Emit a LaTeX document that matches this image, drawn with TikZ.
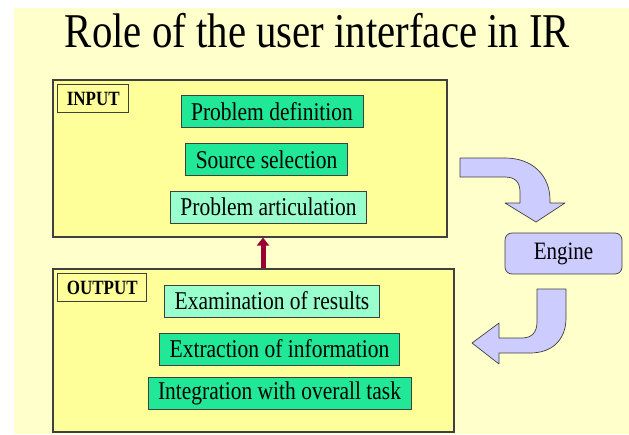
\documentclass[tikz,border=0pt]{standalone}
\usepackage{fontspec}
\setmainfont{Liberation Serif}
\usepackage{graphicx}
\usetikzlibrary{positioning,arrows.meta}
\definecolor{slidebg}{RGB}{255,255,204}
\definecolor{panelfill}{RGB}{255,255,153}
\definecolor{stepgreen}{RGB}{32,232,150}
\definecolor{steplight}{RGB}{153,255,204}
\definecolor{enginefill}{RGB}{204,204,255}
\definecolor{edgegray}{RGB}{64,64,64}
\definecolor{linkred}{RGB}{153,0,51}
\newcommand{\tall}[1]{\scalebox{1}[1.19]{#1}}
\tikzset{
  panel/.style={draw=edgegray, line width=1.1pt, fill=panelfill, inner sep=0pt},
  tag/.style={draw=edgegray, line width=0.8pt, fill=panelfill, inner xsep=9pt,
    minimum height=28pt, font=\fontsize{17}{17}\selectfont\bfseries},
  task/.style={draw=edgegray, line width=0.8pt, fill=stepgreen, inner xsep=10pt,
    minimum height=32pt, font=\fontsize{21.5}{22}\selectfont},
  tasklight/.style={task, fill=steplight},
  turnshape/.style={draw=edgegray, line width=0.7pt, fill=enginefill, line join=round},
}
\begin{document}
\begin{tikzpicture}[x=1pt,y=-1pt]
  \useasboundingbox (0,0) rectangle (629,434);
  \fill[white] (0,0) rectangle (629,434);
  \fill[slidebg] (14,8) rectangle (629,434);

  % Title
  \node[anchor=base, font=\fontsize{40.8}{42}\selectfont] (title) at (317.5,47) {\tall{Role of the user interface in IR}};

  % Panels
  \node[panel, minimum width=394pt, minimum height=157pt] (inbox) at (250,158.5) {};
  \node[panel, minimum width=401pt, minimum height=163pt] (outbox) at (253.5,350.5) {};
  \node[tag, below right=5pt and 5pt of inbox.north west] (intag) {\tall{INPUT}};
  \node[tag, below right=5pt and 5pt of outbox.north west] (outtag) {\tall{OUTPUT}};

  % Input steps
  \node[task] (define) at (272,111.5) {\tall{Problem definition}};
  \node[task] (select) at (266.5,159.5) {\tall{Source selection}};
  \node[tasklight] (articulate) at (268.5,207) {\tall{Problem articulation}};

  % Output steps
  \node[tasklight] (examine) at (272,301) {\tall{Examination of results}};
  \node[task] (extract) at (279.5,349) {\tall{Extraction of information}};
  \node[task] (integrate) at (279.5,393.5) {\tall{Integration with overall task}};

  % Engine
  \node[turnshape, rounded corners=7pt, minimum width=117pt, minimum height=41pt,
    font=\fontsize{21}{22}\selectfont] (engine) at (563.5,253.5) {\tall{Engine}};

  % Link from output to input
  \coordinate (linkfoot) at (263,268);
  \draw[linkred, line width=5pt, -{Triangle[width=12pt,length=8pt]}]
    (outbox.north -| linkfoot) -- (inbox.south -| linkfoot);

  % Curved arrows
  \draw[turnshape] (460,158) -- (505,158) .. controls (532,158) and (550,175) .. (550,200)
    -- (550,203) -- (565,203) -- (536,222) -- (505,203) -- (520,203) -- (520,192)
    .. controls (520,182) and (515,177) .. (505,177) -- (460,177) -- cycle;
  \draw[turnshape] (537,289) -- (566,289) -- (566,318) .. controls (566,340) and (552,353) .. (530,353)
    -- (499,353) -- (499,364) -- (472,343) -- (499,323) -- (499,338) -- (522,338)
    .. controls (532,338) and (537,332) .. (537,322) -- cycle;
\end{tikzpicture}
\end{document}
